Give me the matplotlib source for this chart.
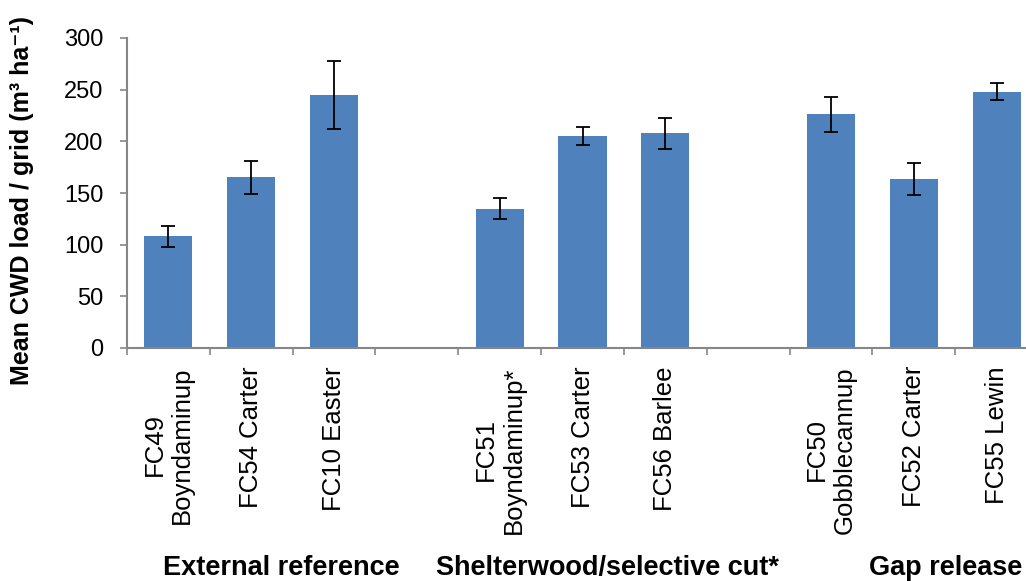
import numpy as np
import matplotlib.pyplot as plt
from matplotlib.transforms import blended_transform_factory

plt.rcParams['font.family'] = ['Liberation Sans', 'DejaVu Sans']

# Data (empty strings / nan = gaps between treatment groups)
sites = ['FC49\nBoyndaminup', 'FC54 Carter', 'FC10 Easter', '',
         'FC51\nBoyndaminup*', 'FC53 Carter', 'FC56 Barlee', '',
         'FC50\nGobblecannup', 'FC52 Carter', 'FC55 Lewin']
mean_load = [108, 165, 245, np.nan, 135, 205, 208, np.nan, 226, 164, 248]
err_load = [10, 16, 33, np.nan, 10, 8.5, 15, np.nan, 17, 15.5, 8]

groups = ['External reference', 'Shelterwood/selective cut*', 'Gap release']
group_x = [1.36, 5.3, 9.39]

yticks = [0, 50, 100, 150, 200, 250, 300]

axis_grey = '#868686'
bar_blue = '#4F81BD'

fig = plt.figure(figsize=(10.26, 5.81), dpi=100)
ax = fig.add_axes([127 / 1026, 1 - 348 / 581, 911 / 1026, 310 / 581])

x = np.arange(len(sites))
ax.bar(x, mean_load, width=0.58, color=bar_blue, zorder=2)
ax.errorbar(x, mean_load, yerr=err_load, fmt='none', ecolor='black',
            elinewidth=1.3, capsize=5, capthick=1.3, zorder=3)

ax.set_xlim(-0.5, len(sites) - 0.5)
ax.set_ylim(0, 300)
ax.set_yticks(yticks)

# slot boundary ticks, labels in the middle of each slot
ax.set_xticks(np.arange(len(sites) + 1) - 0.5)
ax.set_xticklabels([])
ax.set_xticks(x, sites, minor=True)
ax.tick_params(axis='x', which='minor', length=0, pad=13, labelsize=18.5,
               rotation=90)
for t in ax.get_xticklabels(minor=True):
    t.set_multialignment('center')

ax.tick_params(axis='both', which='major', direction='out', length=5,
               width=1.2, color=axis_grey)
ax.tick_params(axis='y', labelsize=17, pad=12)

for s in ['top', 'right']:
    ax.spines[s].set_visible(False)
for s in ['left', 'bottom']:
    ax.spines[s].set_color(axis_grey)
    ax.spines[s].set_linewidth(1.5)

ax.set_ylabel('Mean CWD load / grid (m\u00b3 ha\u207b\u00b9)', fontsize=18,
              fontweight='bold')
ax.yaxis.set_label_coords(-0.102, 0.477)

trans = blended_transform_factory(ax.transData, fig.transFigure)
for g, gx in zip(groups, group_x):
    ax.text(gx, 0.022, g, transform=trans, ha='center', va='center',
            fontsize=19.5, fontweight='bold')

fig.savefig('out.png', dpi=100)
